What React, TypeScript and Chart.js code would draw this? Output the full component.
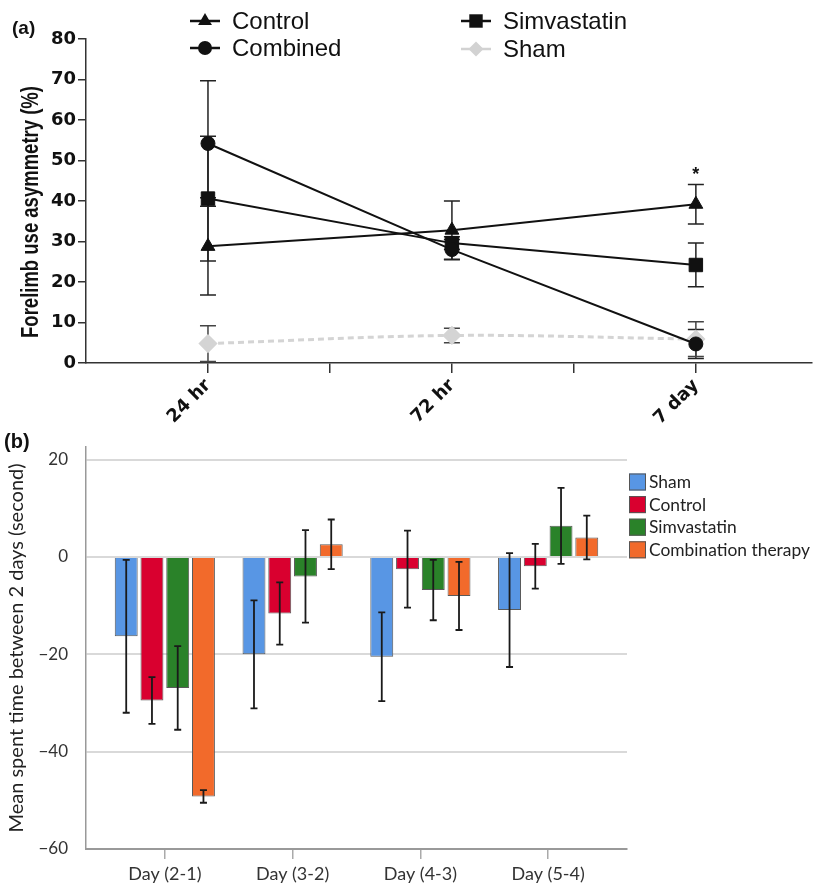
import React, { useEffect, useRef } from 'react';
import { Chart, registerables } from 'chart.js';

Chart.register(...registerables);

// ---------- Panel (a) data ----------
const timeLabels = ['24 hr', '72 hr', '7 day'];
const yTicksA = [0, 10, 20, 30, 40, 50, 60, 70, 80];
const controlA = [28.8, 32.8, 39.2];
const controlAErr = [12.0, 7.2, 4.9];
const combinedA = [54.2, 28.0, 4.7];
const combinedAErr = [15.5, 2.5, 3.6];
const simvaA = [40.6, 29.6, 24.2];
const simvaAErr = [15.4, 1.6, 5.4];
const shamA = [4.8, 6.8, 5.9];
const shamAErr = [4.4, 1.8, 4.3];

// ---------- Panel (b) data ----------
const dayLabels = ['Day (2-1)', 'Day (3-2)', 'Day (4-3)', 'Day (5-4)'];
const yTicksB = [-60, -40, -20, 0, 20];
const shamB = [-16.3, -20.0, -20.5, -10.9];
const shamBErr = [15.7, 11.1, 9.1, 11.7];
const controlB = [-29.5, -11.6, -2.5, -1.9];
const controlBErr = [4.8, 6.4, 7.9, 4.6];
const simvaB = [-26.9, -4.0, -6.8, 6.4];
const simvaBErr = [8.6, 9.5, 6.2, 7.8];
const comboB = [-49.2, 2.6, -8.0, 4.0];
const comboBErr = [1.3, 5.1, 7.0, 4.5];

const seriesNamesB = ['Sham', 'Control', 'Simvastatin', 'Combination therapy'];
const colorsB = ['#5896E4', '#D9002F', '#2A8229', '#F26A2B'];

const FONT_B = 'Lato, "Open Sans", sans-serif';

const mkA = (vals: number[]) => vals.map((v, i) => ({ x: i + 0.5, y: v }));
const mkB = (vals: number[]) => vals.map((v, i) => ({ x: i, y: v }));

function drawShape(ctx: CanvasRenderingContext2D, shape: string, x: number, y: number, r: number) {
  ctx.beginPath();
  if (shape === 'triangle') {
    ctx.moveTo(x, y - r);
    ctx.lineTo(x + r * Math.sin((2 * Math.PI) / 3), y - r * Math.cos((2 * Math.PI) / 3));
    ctx.lineTo(x + r * Math.sin((4 * Math.PI) / 3), y - r * Math.cos((4 * Math.PI) / 3));
    ctx.closePath();
  } else if (shape === 'circle') {
    ctx.arc(x, y, r, 0, Math.PI * 2);
  } else if (shape === 'rect') {
    const s = r * Math.SQRT1_2;
    ctx.rect(x - s, y - s, 2 * s, 2 * s);
  } else {
    ctx.moveTo(x, y - r);
    ctx.lineTo(x + r, y);
    ctx.lineTo(x, y + r);
    ctx.lineTo(x - r, y);
    ctx.closePath();
  }
  ctx.fill();
}

function drawErrors(chart: any, width: number, cap: number) {
  const ctx = chart.ctx;
  const ys = chart.scales.y;
  chart.data.datasets.forEach((ds: any, i: number) => {
    if (!ds.errors) return;
    const meta = chart.getDatasetMeta(i);
    ctx.save();
    ctx.strokeStyle = ds.errorColor || '#222';
    ctx.lineWidth = width;
    meta.data.forEach((el: any, j: number) => {
      const v = ds.data[j].y;
      const e = ds.errors[j];
      const x = el.x;
      const t = ys.getPixelForValue(v + e);
      const b = ys.getPixelForValue(v - e);
      ctx.beginPath();
      ctx.moveTo(x, t);
      ctx.lineTo(x, b);
      ctx.moveTo(x - cap, t);
      ctx.lineTo(x + cap, t);
      ctx.moveTo(x - cap, b);
      ctx.lineTo(x + cap, b);
      ctx.stroke();
    });
    ctx.restore();
  });
}

const errorBarsBefore = {
  id: 'errorBarsBefore',
  beforeDatasetsDraw(chart: any) {
    drawErrors(chart, 1.5, 8);
  },
};
const errorBarsAfter = {
  id: 'errorBarsAfter',
  afterDatasetsDraw(chart: any) {
    drawErrors(chart, 1.8, 3.5);
  },
};

const decorA = {
  id: 'decorA',
  afterDraw(chart: any) {
    const ctx: CanvasRenderingContext2D = chart.ctx;
    const ys = chart.scales.y;
    ctx.save();
    ctx.fillStyle = '#111';
    ctx.font = 'bold 19px "Liberation Sans", Arial, sans-serif';
    ctx.textBaseline = 'alphabetic';
    ctx.textAlign = 'left';
    ctx.fillText('(a)', 12, 34);

    // y axis title
    ctx.save();
    ctx.translate(38, 212);
    ctx.rotate(-Math.PI / 2);
    ctx.scale(1, 1.3);
    ctx.font = 'bold 18.5px "Liberation Sans", Arial, sans-serif';
    ctx.textAlign = 'center';
    ctx.textBaseline = 'alphabetic';
    ctx.fillText('Forelimb use asymmetry (%)', 0, 0);
    ctx.restore();

    // significance star
    const meta = chart.getDatasetMeta(0);
    const sx = meta.data[2].x;
    const sy = ys.getPixelForValue(controlA[2] + controlAErr[2]);
    ctx.font = 'bold 18px "Liberation Sans", Arial, sans-serif';
    ctx.textAlign = 'center';
    ctx.textBaseline = 'bottom';
    ctx.fillText('*', sx, sy);

    // legend
    const items = [
      { t: 'Control', s: 'triangle', r: 8, c: '#111', x: 190, y: 21 },
      { t: 'Combined', s: 'circle', r: 7, c: '#111', x: 190, y: 48 },
      { t: 'Simvastatin', s: 'rect', r: 9.5, c: '#111', x: 461, y: 21 },
      { t: 'Sham', s: 'diamond', r: 7.5, c: '#d2d2d2', x: 461, y: 49 },
    ];
    items.forEach((it) => {
      ctx.strokeStyle = it.c;
      ctx.fillStyle = it.c;
      ctx.lineWidth = 2.5;
      ctx.beginPath();
      ctx.moveTo(it.x, it.y);
      ctx.lineTo(it.x + 30, it.y);
      ctx.stroke();
      drawShape(ctx, it.s, it.x + 15, it.y, it.r);
      ctx.fillStyle = '#111';
      ctx.font = '24px "Liberation Sans", Arial, sans-serif';
      ctx.textAlign = 'left';
      ctx.textBaseline = 'middle';
      ctx.fillText(it.t, it.x + 42, it.y + 1);
    });
    ctx.restore();
  },
};

const decorB = {
  id: 'decorB',
  afterDraw(chart: any) {
    const ctx: CanvasRenderingContext2D = chart.ctx;
    ctx.save();
    ctx.fillStyle = '#111';
    ctx.font = 'bold 20px "Liberation Sans", Arial, sans-serif';
    ctx.textAlign = 'left';
    ctx.textBaseline = 'alphabetic';
    ctx.fillText('(b)', 4, 18);

    const lx = 629;
    const ly = 43.5;
    seriesNamesB.forEach((n, i) => {
      const y = ly + i * 22.6;
      ctx.fillStyle = colorsB[i];
      ctx.fillRect(lx, y, 17, 17);
      ctx.strokeStyle = '#555';
      ctx.lineWidth = 1;
      ctx.strokeRect(lx + 0.5, y + 0.5, 16, 16);
      ctx.fillStyle = '#222';
      ctx.font = `17.4px ${FONT_B}`;
      ctx.textAlign = 'left';
      ctx.textBaseline = 'middle';
      ctx.fillText(n, lx + 20, y + 9);
    });
    ctx.restore();
  },
};

const zeroPad = (s: any) => {
  s.paddingTop = 0;
  s.paddingBottom = 0;
  s.paddingLeft = 0;
  s.paddingRight = 0;
};

export default function App() {
  const refA = useRef<HTMLCanvasElement>(null);
  const refB = useRef<HTMLCanvasElement>(null);

  useEffect(() => {
    const blackLine = {
      borderColor: '#111',
      backgroundColor: '#111',
      pointBackgroundColor: '#111',
      pointBorderColor: '#111',
      borderWidth: 2,
      pointBorderWidth: 1,
      tension: 0,
      clip: false as any,
      errorColor: '#222',
    };
    const chartA = new Chart(refA.current!, {
      type: 'line',
      data: {
        datasets: [
          { label: 'Control', data: mkA(controlA), errors: controlAErr, pointStyle: 'triangle', pointRadius: 8, ...blackLine } as any,
          { label: 'Combined', data: mkA(combinedA), errors: combinedAErr, pointStyle: 'circle', pointRadius: 7, ...blackLine } as any,
          { label: 'Simvastatin', data: mkA(simvaA), errors: simvaAErr, pointStyle: 'rect', pointRadius: 9.5, ...blackLine } as any,
          {
            label: 'Sham',
            data: mkA(shamA),
            errors: shamAErr,
            errorColor: '#444',
            pointStyle: 'rectRot',
            pointRadius: 7.5,
            borderColor: '#d4d4d4',
            backgroundColor: '#d4d4d4',
            pointBackgroundColor: '#d4d4d4',
            pointBorderColor: '#d4d4d4',
            borderWidth: 3,
            borderDash: [6, 4],
            tension: 0.35,
            clip: false,
          } as any,
        ],
      },
      options: {
        animation: false,
        responsive: true,
        maintainAspectRatio: false,
        events: [],
        layout: { padding: { top: 39, left: 0, right: 0, bottom: 0 } },
        plugins: { legend: { display: false }, tooltip: { enabled: false } },
        scales: {
          x: {
            type: 'linear',
            min: 0,
            max: 2.974,
            afterBuildTicks: (s: any) => {
              s.ticks = [0.5, 1, 1.5, 2, 2.5].map((v) => ({ value: v }));
            },
            afterFit: (s: any) => {
              s.height = 67;
            },
            ticks: {
              autoSkip: false,
              minRotation: 45,
              maxRotation: 45,
              padding: 2,
              color: '#111',
              font: { family: '"DejaVu Sans", sans-serif', weight: 'bold', size: 18 },
              callback: (v: any) => {
                const n = Number(v);
                return Math.abs(n - Math.round(n)) > 0.25 ? timeLabels[Math.floor(n)] : '';
              },
            },
            grid: { drawOnChartArea: false, tickLength: 10, color: '#333', lineWidth: 1.5 },
            border: { color: '#333', width: 1.5 },
          },
          y: {
            min: 0,
            max: 80,
            afterBuildTicks: (s: any) => {
              s.ticks = yTicksA.map((v) => ({ value: v }));
            },
            afterFit: (s: any) => {
              s.width = 86;
            },
            ticks: {
              padding: 2,
              color: '#111',
              font: { family: '"DejaVu Sans", sans-serif', weight: 'bold', size: 18 },
            },
            grid: { drawOnChartArea: false, tickLength: 8, color: '#333', lineWidth: 1.5 },
            border: { color: '#333', width: 1.5 },
          },
        },
      } as any,
      plugins: [errorBarsBefore, decorA],
    });

    const barCommon = {
      borderColor: '#5a5a5a',
      borderWidth: 1,
      categoryPercentage: 0.806,
      barPercentage: 0.89,
      errorColor: '#1a1a1a',
    };
    const seriesB = [shamB, controlB, simvaB, comboB];
    const errsB = [shamBErr, controlBErr, simvaBErr, comboBErr];
    const chartB = new Chart(refB.current!, {
      type: 'bar',
      data: {
        datasets: seriesB.map((vals, i) => ({
          label: seriesNamesB[i],
          data: mkB(vals),
          errors: errsB[i],
          backgroundColor: colorsB[i],
          ...barCommon,
        })) as any,
      },
      options: {
        animation: false,
        responsive: true,
        maintainAspectRatio: false,
        events: [],
        layout: { padding: { top: 17, left: 0, right: 195, bottom: 0 } },
        plugins: { legend: { display: false }, tooltip: { enabled: false } },
        scales: {
          x: {
            type: 'linear',
            offset: false,
            min: -0.617,
            max: 3.617,
            afterBuildTicks: (s: any) => {
              s.ticks = dayLabels.map((_, i) => ({ value: i }));
            },
            afterFit: (s: any) => {
              s.height = 37;
              zeroPad(s);
            },
            ticks: {
              autoSkip: false,
              maxRotation: 0,
              minRotation: 0,
              padding: 4,
              color: '#333',
              font: { family: FONT_B, size: 18 },
              callback: (v: any) => dayLabels[Math.round(Number(v))] ?? '',
            },
            grid: { offset: false, drawOnChartArea: false, tickLength: 10, color: '#aaa', lineWidth: 1.5 },
            border: { color: '#999', width: 2 },
          },
          y: {
            min: -60,
            max: 22.6,
            afterBuildTicks: (s: any) => {
              s.ticks = yTicksB.map((v) => ({ value: v }));
            },
            afterFit: (s: any) => {
              s.width = 86;
              zeroPad(s);
            },
            title: {
              display: true,
              text: 'Mean spent time between 2 days (second)',
              color: '#222',
              font: { family: FONT_B, size: 20 },
              padding: { top: 5, bottom: 0 },
            },
            ticks: {
              padding: 18,
              color: '#333',
              font: { family: FONT_B, size: 17 },
              callback: (v: any) => (Number(v) < 0 ? '\u2212' + Math.abs(Number(v)) : String(v)),
            },
            grid: { color: '#d9d9d9', lineWidth: 2, drawTicks: false },
            border: { color: '#999', width: 1.5 },
          },
        },
      } as any,
      plugins: [errorBarsAfter, decorB],
    });

    return () => {
      chartA.destroy();
      chartB.destroy();
    };
  }, []);

  return (
    <div style={{ position: 'absolute', left: 0, top: 0, width: 822, height: 886, background: '#fff' }}>
      <div style={{ position: 'absolute', left: 0, top: 0, width: 822, height: 430 }}>
        <canvas ref={refA} />
      </div>
      <div style={{ position: 'absolute', left: 0, top: 430, width: 822, height: 456 }}>
        <canvas ref={refB} />
      </div>
    </div>
  );
}
